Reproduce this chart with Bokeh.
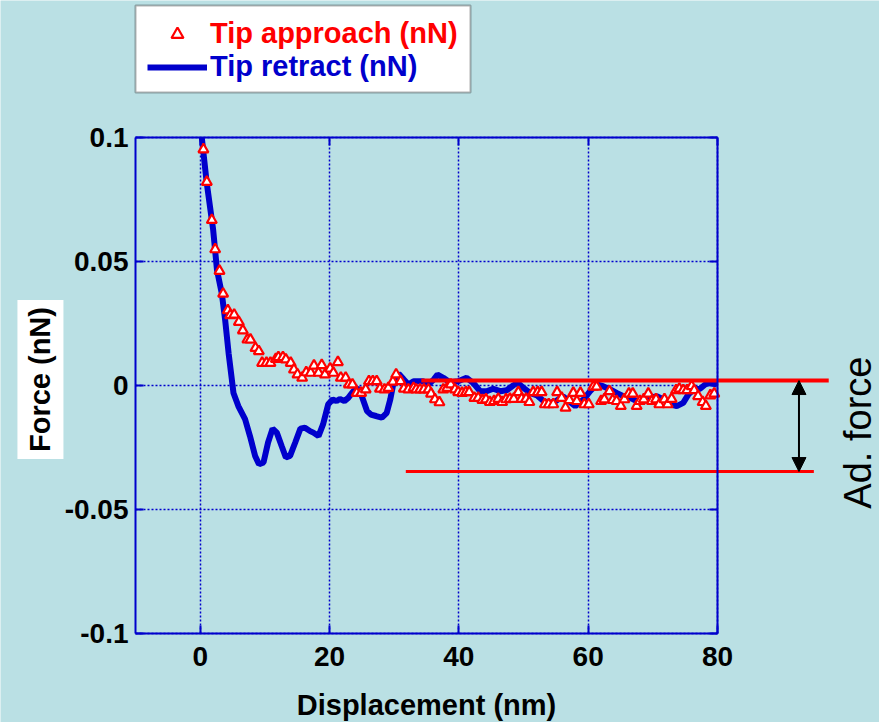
import math
from bokeh.plotting import figure
from bokeh.models import (Range1d, LinearAxis, FixedTicker, Legend, LegendItem, Label,
                          Arrow, NormalHead, BoxAnnotation, Grid)
from bokeh.embed import file_html
from bokeh.resources import INLINE

# ---------------- data ----------------
approach_x = [0.5, 1.03, 1.8, 2.32, 2.99, 3.55, 4.28, 4.64, 5.26, 5.98, 6.6, 7.3, 7.77, 8.55, 9.07,
              9.58, 10.25, 10.87, 11.7, 12.1, 12.8, 13.25, 14.0, 14.5, 15.05, 15.77, 16.4, 17.1,
              17.6, 18.3, 18.8, 19.3, 20.1, 20.6, 21.3, 21.75, 22.5, 23.0, 23.55, 24.2, 24.9, 25.6,
              26.1, 26.7, 27.3, 27.8, 28.5, 29.1, 29.8, 30.3, 31.0, 31.5, 32.2, 33.0, 33.4, 34.0,
              34.6, 35.3, 35.7, 36.3, 37.0, 37.6, 38.2, 38.75, 39.4, 39.9, 40.5, 41.1, 41.6, 42.4,
              43.0, 43.65, 44.2, 44.8, 45.45, 46.1, 46.7, 47.3, 47.9, 48.5, 49.2, 49.7, 50.4, 50.9,
              51.5, 52.2, 52.8, 53.3, 53.9, 54.6, 55.2, 55.9, 56.5, 57.1, 57.7, 58.25, 58.8, 59.4,
              60.1, 60.8, 61.3, 62.0, 62.5, 63.3, 63.8, 64.4, 65.05, 65.6, 66.3, 66.9, 67.5, 68.0,
              68.6, 69.3, 69.85, 70.5, 71.0, 71.8, 72.3, 72.9, 73.6, 74.1, 74.7, 75.3, 76.0, 76.4,
              77.0, 77.7, 78.2, 78.9, 79.5]
approach_y = [0.0952, 0.0821, 0.0667, 0.0549, 0.0462, 0.037, 0.0303, 0.0283, 0.0285, 0.0256, 0.0222,
              0.0185, 0.0185, 0.0151, 0.0138, 0.0091, 0.0091, 0.0091, 0.0107, 0.0114, 0.0114, 0.0105,
              0.0091, 0.0064, 0.0044, 0.0031, 0.0053, 0.0051, 0.008, 0.0051, 0.0082, 0.0044, 0.0068,
              0.0051, 0.0094, 0.0031, 0.0031, 0.0004, 0.0004, -0.003, -0.003, -0.0016, 0.0017, 0.0017,
              0.0017, -0.0013, -0.0016, -0.001, 0.0015, 0.0044, 0.0017, -0.0013, -0.0016, -0.001,
              -0.0016, -0.0016, -0.0016, -0.0016, -0.0033, -0.0056, -0.0068, -0.0016, -0.001, 0.0004,
              -0.0016, -0.0027, -0.003, -0.0027, -0.0027, -0.005, -0.005, -0.0059, -0.0056, -0.0067,
              -0.0063, -0.0054, -0.0067, -0.0056, -0.0054, -0.0054, -0.0027, -0.0054, -0.0054, -0.0067,
              -0.0027, -0.0027, -0.0027, -0.0076, -0.0076, -0.0076, -0.0027, -0.005, -0.009, -0.0059,
              -0.003, -0.0063, -0.003, -0.0076, -0.0076, -0.0005, -0.0005, -0.0063, -0.0056, -0.0023,
              -0.0059, -0.0063, -0.0083, -0.0056, -0.0033, -0.0033, -0.0083, -0.0063, -0.0056, -0.0033,
              -0.0063, -0.0056, -0.0076, -0.0056, -0.0076, -0.0054, -0.0019, -0.0013, -0.0019, -0.0019,
              -0.0003, -0.0019, -0.0043, -0.0067, -0.0083, -0.004, -0.0033]

retract_x = [0.25, 1.0, 2.0, 2.6, 3.35, 3.86, 4.4, 4.9, 5.15, 5.9, 6.96, 7.7, 8.5, 9.1, 9.8, 10.5,
             11.2, 11.85, 12.6, 13.25, 13.9, 14.7, 15.5, 16.2, 17.0, 17.5, 18.3, 19.0, 19.8, 20.5,
             21.1, 21.6, 22.3, 22.9, 23.7, 24.4, 25.0, 25.8, 26.4, 27.2, 28.1, 28.85, 29.4, 29.9,
             30.7, 31.5, 32.2, 33.0, 33.75, 34.5, 35.3, 36.1, 36.7, 37.6, 38.6, 39.9, 41.2, 42.2,
             43.3, 44.3, 45.3, 46.4, 47.4, 48.4, 49.1, 50.0, 51.0, 52.1, 53.1, 54.1, 55.0, 56.1,
             57.0, 58.0, 59.3, 60.3, 61.3, 62.3, 63.4, 64.4, 65.45, 66.5, 67.5, 68.6, 69.6, 70.6,
             71.7, 72.7, 73.7, 74.7, 75.5, 76.3, 77.3, 78.1, 78.85, 79.9]
retract_y = [0.1, 0.082, 0.063, 0.0466, 0.037, 0.0265, 0.013, 0.0024, -0.003, -0.0083, -0.0137,
             -0.0204, -0.0284, -0.0318, -0.031, -0.023, -0.0174, -0.019, -0.0244, -0.029, -0.0284,
             -0.023, -0.0174, -0.017, -0.0184, -0.019, -0.0204, -0.0157, -0.0076, -0.0056, -0.0063,
             -0.0054, -0.0063, -0.005, -0.0023, -0.001, -0.0043, -0.0103, -0.0117, -0.0123, -0.013,
             -0.011, -0.0056, 0.0011, 0.0048, 0.0024, 0.0004, 0.0017, 0.0017, 0.0017, 0.0004, 0.0024,
             0.0044, 0.0031, 0.0013, 0.0017, 0.0031, 0.0011, -0.0023, -0.0023, -0.0013, -0.0023,
             -0.0019, 0.0, 0.0011, -0.001, -0.003, -0.004, -0.0063, -0.007, -0.0063, -0.0043, -0.0063,
             -0.0083, -0.0056, -0.0023, 0.0004, -0.0003, -0.0016, -0.003, -0.0043, -0.005, -0.0063,
             -0.0063, -0.005, -0.0043, -0.0056, -0.0076, -0.0083, -0.007, -0.0036, -0.0016, -0.0013,
             0.0004, 0.0011, 0.0004]

x_ticks = [0, 20, 40, 60, 80]
y_ticks = [-0.1, -0.05, 0, 0.05, 0.1]
y_tick_labels = ["-0.1", "-0.05", "0", "0.05", "0.1"]
X_LIM = (-10, 80)
Y_LIM = (-0.1, 0.1)

# adhesion-force annotation: two red level lines and a double arrow between them
adh_x0 = [34.2, 31.8]
adh_x1 = [97.2, 94.9]
adh_y = [0.002, -0.0347]
adh_w = [4, 3]
adh_arrow_x = 92.6
adh_label_x = 101.65
adh_label_y = -0.019

# y-axis title position (left of the axis, on a white box)
ytitle_x = -24.7
ytitle_y = 0.0024

BG = "#BAE0E4"
BLUE = "#0000CC"
RED = "#FF0000"
FONT = "Liberation Sans"

# ---------------- layout geometry (pixels) ----------------
W, H = 879, 722
BOX_L, BOX_T, BOX_W, BOX_H = 135, 137, 582, 496      # visible plot box inside the canvas
px_x = BOX_W / (X_LIM[1] - X_LIM[0])
px_y = BOX_H / (Y_LIM[1] - Y_LIM[0])
xr = Range1d(X_LIM[0] - BOX_L / px_x, X_LIM[1] + (W - BOX_L - BOX_W) / px_x)
yr = Range1d(Y_LIM[0] - (H - BOX_T - BOX_H) / px_y, Y_LIM[1] + BOX_T / px_y)

p = figure(width=W, height=H, output_backend="svg", toolbar_location=None,
           x_range=xr, y_range=yr, x_axis_location=None, y_axis_location=None,
           min_border=0)
p.center = [r for r in p.center if not isinstance(r, Grid)]
p.background_fill_color = BG
p.border_fill_color = BG
p.outline_line_color = None


def make_axis(ticks, fixed, bounds, labels=True):
    a = LinearAxis(ticker=FixedTicker(ticks=ticks), fixed_location=fixed, bounds=bounds,
                   axis_line_color=BLUE, axis_line_width=2, major_tick_line_color=BLUE,
                   major_tick_line_width=2, major_tick_in=8, major_tick_out=0,
                   minor_tick_line_color=None)
    if labels:
        a.major_label_text_font = FONT
        a.major_label_text_font_style = "bold"
        a.major_label_text_font_size = "28px"
        a.major_label_text_color = "black"
    else:
        a.major_label_text_font_size = "0px"
        a.major_label_text_color = None
        a.major_label_standoff = 0
    return a


xaxis = make_axis(x_ticks, Y_LIM[0], X_LIM)
xaxis.major_label_standoff = 13
xaxis.axis_label = "Displacement (nm)"
xaxis.axis_label_text_font = FONT
xaxis.axis_label_text_font_style = "bold"
xaxis.axis_label_text_font_size = "29px"
xaxis.axis_label_text_color = "black"
xaxis.axis_label_standoff = 20
p.add_layout(xaxis, "below")

yaxis = make_axis(y_ticks, X_LIM[0], Y_LIM)
yaxis.major_label_overrides = {t: l for t, l in zip(y_ticks, y_tick_labels)}
yaxis.major_label_standoff = 7
p.add_layout(yaxis, "left")

p.add_layout(make_axis(x_ticks, Y_LIM[1], X_LIM, labels=False), "above")
p.add_layout(make_axis(y_ticks, X_LIM[1], Y_LIM, labels=False), "right")

# dotted grid, limited to the plot box
try:
    gx = Grid(dimension=0, ticker=FixedTicker(ticks=x_ticks), bounds=X_LIM, cross_bounds=Y_LIM)
    gy = Grid(dimension=1, ticker=FixedTicker(ticks=y_ticks), bounds=Y_LIM, cross_bounds=X_LIM)
    for g in (gx, gy):
        g.grid_line_color = BLUE
        g.grid_line_width = 1.5
        g.grid_line_dash = "2 2"
        p.add_layout(g)
except (AttributeError, ValueError):
    inner_x = [t for t in x_ticks if X_LIM[0] < t < X_LIM[1]]
    inner_y = [t for t in y_ticks if Y_LIM[0] < t < Y_LIM[1]]
    p.segment(x0=inner_x, y0=[Y_LIM[0]] * len(inner_x), x1=inner_x, y1=[Y_LIM[1]] * len(inner_x),
              line_color=BLUE, line_width=1.5, line_dash="2 2")
    p.segment(x0=[X_LIM[0]] * len(inner_y), y0=inner_y, x1=[X_LIM[1]] * len(inner_y), y1=inner_y,
              line_color=BLUE, line_width=1.5, line_dash="2 2")

r_ret = p.line(retract_x, retract_y, line_color=BLUE, line_width=6)
r_app = p.scatter(approach_x, approach_y, marker="triangle", size=10, line_color=RED,
                  line_width=2.2, fill_color="white")

# adhesion annotation
p.segment(x0=adh_x0, y0=adh_y, x1=adh_x1, y1=adh_y, line_color=RED, line_width=adh_w)
p.add_layout(Arrow(x_start=adh_arrow_x, y_start=adh_y[0], x_end=adh_arrow_x, y_end=adh_y[1],
                   start=NormalHead(size=14, fill_color="black", line_color="black"),
                   end=NormalHead(size=14, fill_color="black", line_color="black"),
                   line_color="black", line_width=2))
p.add_layout(Label(x=adh_label_x, y=adh_label_y, text="Ad. force", angle=math.pi / 2,
                   text_align="center", text_baseline="middle", text_font=FONT,
                   text_font_size="38px", text_color="black"))

# y axis title on a white box
p.add_layout(Label(x=ytitle_x, y=ytitle_y, text="Force (nN)", angle=math.pi / 2,
                   text_align="center", text_baseline="middle", text_font=FONT,
                   text_font_style="bold", text_font_size="29px", text_color="black",
                   background_fill_color="white", padding=7))

# legend: white box + two single-item legends (each with its own text colour)
p.add_layout(BoxAnnotation(left=135, right=470, top=5, bottom=92, left_units="canvas",
                           right_units="canvas", top_units="canvas", bottom_units="canvas",
                           fill_color="white", fill_alpha=1, line_color="black", line_width=2))
legA = Legend(items=[LegendItem(label="Tip approach (nN)", renderers=[r_app])],
              location=(147, 672), label_text_color=RED)
legB = Legend(items=[LegendItem(label="Tip retract (nN)", renderers=[r_ret])],
              location=(147, 639), label_text_color=BLUE)
for lg in (legA, legB):
    lg.background_fill_alpha = 0
    lg.border_line_color = None
    lg.padding = 0
    lg.margin = 0
    lg.glyph_width = 60
    lg.glyph_height = 30
    lg.label_height = 30
    lg.label_standoff = 3
    lg.label_text_font = FONT
    lg.label_text_font_style = "bold"
    lg.label_text_font_size = "29px"
    lg.label_text_baseline = "middle"
    p.add_layout(lg)

open("out.html", "w").write(file_html(p, INLINE))
